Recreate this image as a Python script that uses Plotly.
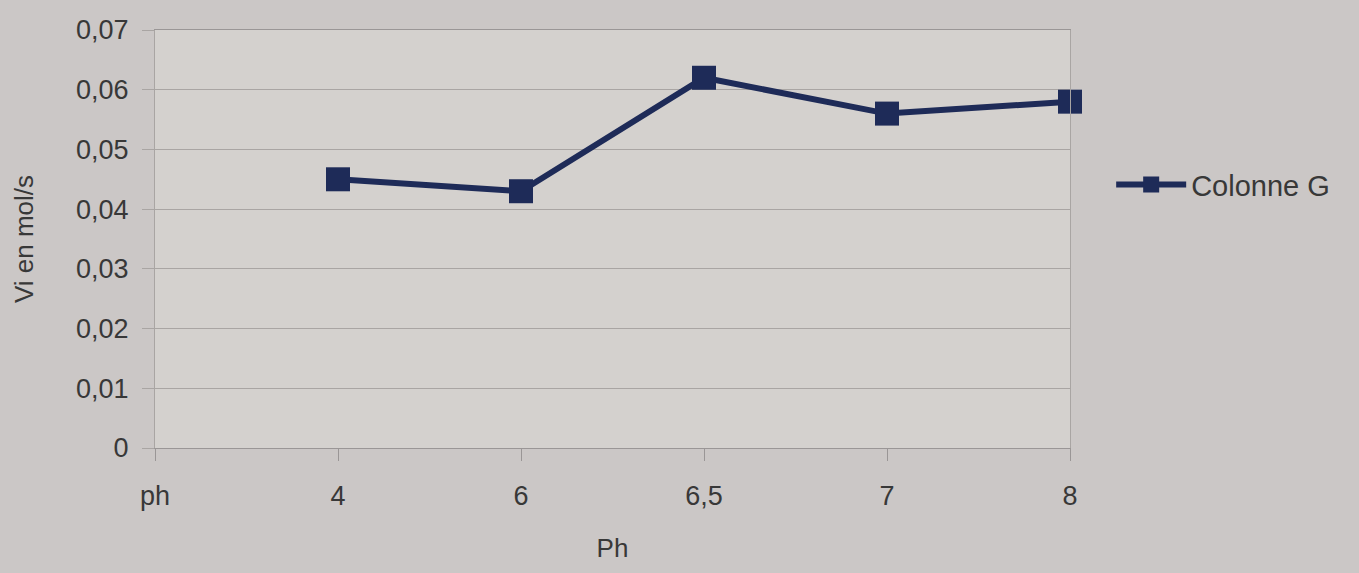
import plotly.graph_objects as go

categories = ["ph", "4", "6", "6,5", "7", "8"]
values = [None, 0.045, 0.043, 0.062, 0.056, 0.058]
series_name = "Colonne G"
y_tickvals = [0, 0.01, 0.02, 0.03, 0.04, 0.05, 0.06, 0.07]
y_ticktext = ["0", "0,01", "0,02", "0,03", "0,04", "0,05", "0,06", "0,07"]

navy = "#1e2b58"
fig = go.Figure()
fig.add_trace(go.Scatter(
    x=categories, y=values, name=series_name, mode="lines+markers",
    line=dict(color=navy, width=6),
    marker=dict(symbol="square", size=24, color=navy),
    connectgaps=False, cliponaxis=False,
))

fig.update_layout(
    width=1359, height=573,
    margin=dict(l=155, r=289, t=30, b=125),
    paper_bgcolor="#cbc7c6",
    plot_bgcolor="#d4d1ce",
    font=dict(family="Liberation Sans, Arial, sans-serif", size=27, color="#383838"),
    showlegend=True,
    legend=dict(x=1.045, y=0.63, xanchor="left", yanchor="middle",
                bgcolor="rgba(0,0,0,0)", font=dict(size=29, color="#383838"),
                itemwidth=70),
)
fig.update_xaxes(
    type="category", categoryorder="array", categoryarray=categories,
    range=[0, 5], showgrid=False,
    ticks="outside", ticklen=12, tickcolor="#9a9696", tickwidth=1,
    ticklabelstandoff=12,
    showline=True, linecolor="#9a9696", linewidth=1, mirror=True,
    title=dict(text="Ph", font=dict(size=26), standoff=28),
)
fig.update_yaxes(
    range=[0, 0.07], tickvals=y_tickvals, ticktext=y_ticktext,
    showgrid=True, gridcolor="#a9a5a3", gridwidth=1,
    ticks="outside", ticklen=12, tickcolor="#a9a5a3",
    ticklabelstandoff=8,
    showline=True, linecolor="#a9a5a3", linewidth=1, mirror=True,
    zeroline=False,
    title=dict(text="Vi en mol/s", font=dict(size=26), standoff=34),
)
fig.write_html("out.html")
